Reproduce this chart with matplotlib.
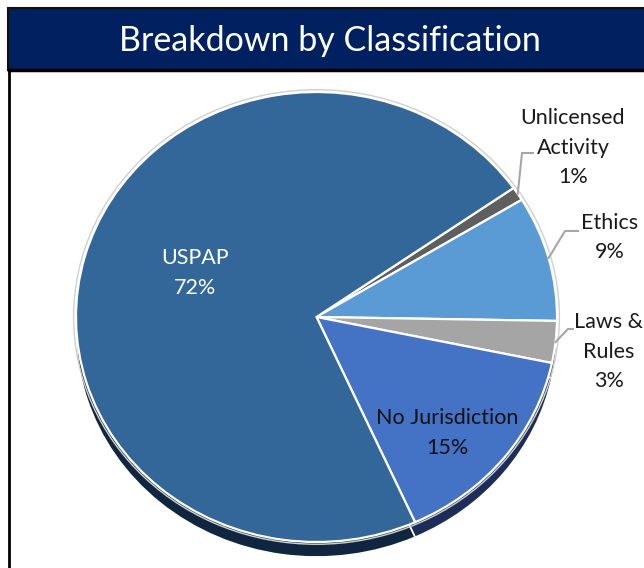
import matplotlib
matplotlib.use('Agg')
import matplotlib.pyplot as plt
from matplotlib.patches import Rectangle, Ellipse
from matplotlib.lines import Line2D
from matplotlib.transforms import IdentityTransform
import numpy as np

categories = ['Unlicensed Activity', 'Ethics', 'Laws & Rules', 'No Jurisdiction', 'USPAP']
values = [1, 9, 3, 15, 72]
label_lines = [['Unlicensed', 'Activity', '1%'], ['Ethics', '9%'], ['Laws &', 'Rules', '3%'],
               ['No Jurisdiction', '15%'], ['USPAP', '72%']]
colors = ['#5f5f5f', '#5b9bd5', '#a5a5a5', '#4472c4', '#33679a']
side_colors = ['#2a2a2a', '#27476a', '#4a4a4a', '#1d2d5a', '#0f2540']
text_colors = ['#1a1a1a', '#1a1a1a', '#1a1a1a', '#111111', 'white']

W, H = 644, 568
FONT = 'Lato'
fig = plt.figure(figsize=(W / 100, H / 100), dpi=100)
fig.patch.set_facecolor('white')

bg = fig.add_axes([0, 0, 1, 1])
bg.set_xlim(0, W)
bg.set_ylim(H, 0)
bg.axis('off')
bg.add_patch(Rectangle((8, 8), W, 62, facecolor='#002060', edgecolor='#111111', lw=1.5))
bg.plot([9, 9], [70, H + 5], color='black', lw=2)
bg.plot([9, W + 5], [70, 70], color='black', lw=2.5)
bg.text(330, 41, 'Breakdown by Classification', color='white', fontsize=24.5,
        ha='center', va='center', family=FONT)

ax = fig.add_axes([76 / W, 1 - 542 / H, 481 / W, 450 / H])
shadow, _ = ax.pie(values, colors=side_colors, startangle=35, counterclock=False,
                   center=(0, -15 / 225), radius=1,
                   wedgeprops=dict(edgecolor='white', linewidth=1.2))
for w in shadow:
    w.set_clip_on(False)
halo = Ellipse((0, 0), 2.02, 2.02, facecolor='none', edgecolor='#d0d0d0', lw=1.0, clip_on=False)
ax.add_patch(halo)
wedges, _ = ax.pie(values, colors=colors, startangle=35, counterclock=False,
                   radius=1, wedgeprops=dict(edgecolor='white', linewidth=1.6))
for w in wedges:
    w.set_clip_on(False)
ax.set_aspect('auto')
ax.set_xlim(-1, 1)
ax.set_ylim(-1, 1)
ax.axis('off')

# label positions (center x, first-line y in top-origin pixels)
label_pos = [(573, 118), (610, 223), (609, 322), (447, 418), (195, 258)]
line_gap = 29.5
for lines, (x, y0), tc in zip(label_lines, label_pos, text_colors):
    for i, ln in enumerate(lines):
        fig.text(x / W, 1 - (y0 + i * line_gap) / H, ln, ha='center', va='center',
                 fontsize=15.5, color=tc, family=FONT)

# leader lines for the outside labels
fig.canvas.draw()
elbows = [(522, 153, 533), (565, 231, 578), (568, 329, 573)]
for w, (ex, ey, hx) in zip(wedges[:3], elbows):
    mid = np.deg2rad((w.theta1 + w.theta2) / 2)
    px, py = ax.transData.transform((np.cos(mid), np.sin(mid)))
    ln = Line2D([px, ex, hx], [py, H - ey, H - ey], color='#a6a6a6', lw=1.5,
                transform=IdentityTransform())
    fig.add_artist(ln)

fig.savefig('out.png', dpi=100, facecolor='white')
